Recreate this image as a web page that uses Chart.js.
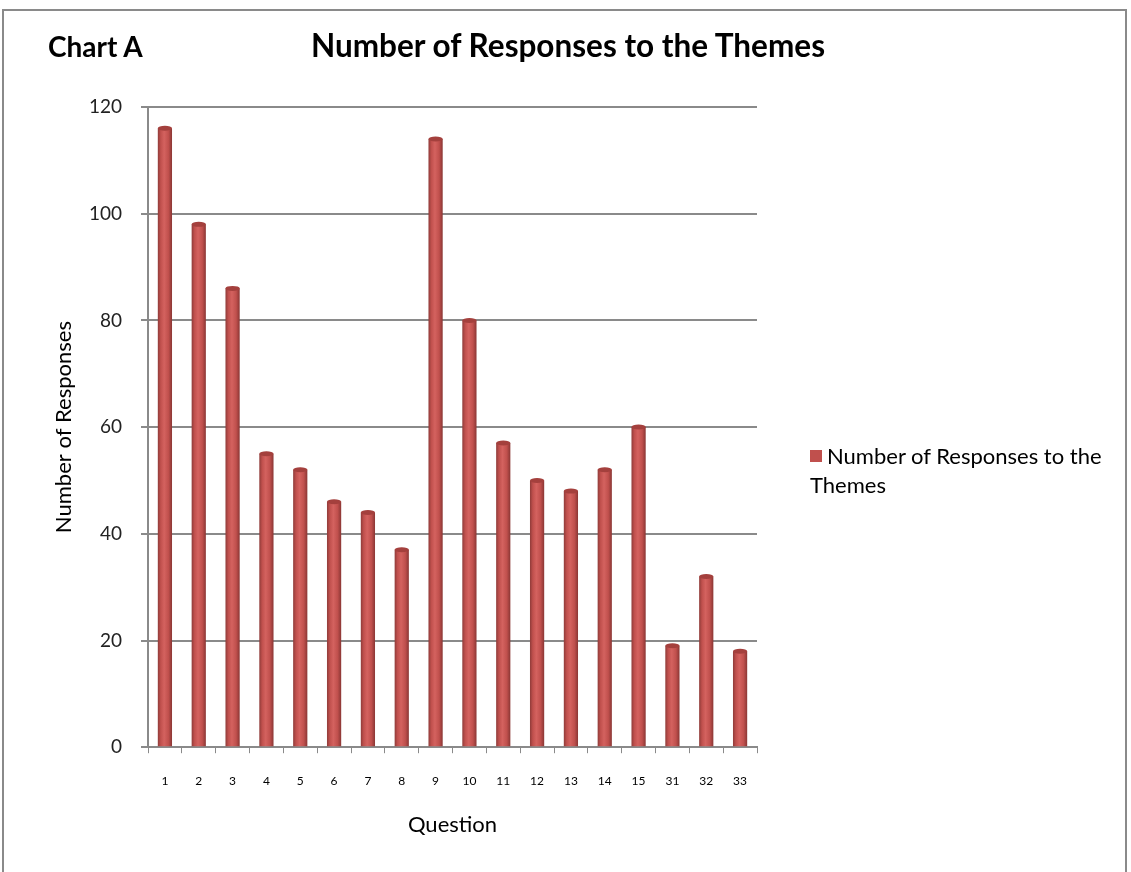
<!DOCTYPE html>
<html>
<head>
<meta charset="utf-8">
<script src="https://cdn.jsdelivr.net/npm/chart.js@4.4.1/dist/chart.umd.min.js"></script>
<style>
  html, body { margin: 0; padding: 0; background: #fff; }
  body { width: 1131px; height: 872px; position: relative; overflow: hidden; font-family: Lato, "Open Sans", sans-serif; }
  #frame { position: absolute; left: 2px; top: 9px; width: 1125px; height: 900px; border: 2px solid #8a8a8a; box-sizing: border-box; }
  #wrap { position: absolute; left: 0; top: 0; width: 1131px; height: 872px; }
  #chartA { position: absolute; left: 48px; top: 29px; font-size: 28px; font-weight: bold; color: #000; }
  #title { position: absolute; left: 311px; top: 26px; font-size: 31.5px; font-weight: bold; color: #000; white-space: nowrap; }
  #legend { position: absolute; left: 810px; top: 441px; width: 300px; font-size: 22px; color: #000; line-height: 29px; }
  #legend .sw { display: inline-block; width: 12px; height: 12px; background: #c0504d; margin-right: 5px; vertical-align: 2px; }
</style>
</head>
<body>
<div id="frame"></div>
<div id="wrap"><canvas id="chart" width="1131" height="872"></canvas></div>
<div id="chartA">Chart A</div>
<div id="title"></div>
<div id="legend"></div>
<script>
const questions = ["1", "2", "3", "4", "5", "6", "7", "8", "9", "10", "11", "12", "13", "14", "15", "31", "32", "33"];
const responses = [116, 98, 86, 55, 52, 46, 44, 37, 114, 80, 57, 50, 48, 52, 60, 19, 32, 18];
const yTicks = [0, 20, 40, 60, 80, 100, 120];
const seriesName = "Number of Responses to the Themes";

const barShare = 0.42;

function barFill(ctx) {
  const chart = ctx.chart;
  const x = chart.scales.x;
  if (!chart.chartArea || !x) return "#c0504d";
  const step = x.width / questions.length;
  const cx = x.getPixelForValue(ctx.dataIndex);
  const w = step * barShare;
  const g = chart.ctx.createLinearGradient(cx - w / 2, 0, cx + w / 2, 0);
  g.addColorStop(0, "#8f3b39");
  g.addColorStop(0.2, "#c0504d");
  g.addColorStop(0.45, "#d4625f");
  g.addColorStop(0.75, "#c0504d");
  g.addColorStop(1, "#8a3634");
  return g;
}

// little elliptical cap on top of each column, like the 3D cylinders
const caps = {
  id: "caps",
  afterDatasetsDraw(chart) {
    const c = chart.ctx;
    chart.getDatasetMeta(0).data.forEach(bar => {
      c.save();
      c.beginPath();
      c.ellipse(bar.x, bar.y, bar.width / 2, 2.5, 0, 0, Math.PI * 2);
      c.fillStyle = "#a4403d";
      c.fill();
      c.restore();
    });
  }
};

document.getElementById("title").textContent = seriesName;
document.getElementById("legend").innerHTML = `<span class="sw"></span>${seriesName}`;

new Chart(document.getElementById("chart"), {
  type: "bar",
  data: {
    labels: questions,
    datasets: [{
      label: seriesName,
      data: responses,
      backgroundColor: barFill,
      borderWidth: 0,
      barPercentage: barShare,
      categoryPercentage: 1
    }]
  },
  plugins: [caps],
  options: {
    responsive: false,
    animation: false,
    layout: { padding: { left: 47, right: 374, top: 107, bottom: 30 } },
    plugins: {
      legend: { display: false },
      tooltip: { enabled: false }
    },
    scales: {
      x: {
        grid: { drawOnChartArea: false, drawTicks: true, tickLength: 6, color: "#8a8a8a", lineWidth: 1 },
        border: { color: "#8a8a8a", width: 2 },
        ticks: { color: "#000", font: { family: "Lato", size: 12 }, padding: 21, maxRotation: 0, autoSkip: false },
        title: { display: true, text: "Question", color: "#000", font: { family: "Lato", size: 22 }, padding: { top: 2 } }
      },
      y: {
        min: 0,
        max: 120,
        afterBuildTicks: axis => { axis.ticks = yTicks.map(v => ({ value: v })); },
        afterFit: axis => { axis.width = 101; },
        grid: { color: "#8a8a8a", lineWidth: 2, tickLength: 7 },
        border: { color: "#8a8a8a", width: 2 },
        ticks: { color: "#222", font: { family: "Lato", size: 19 }, padding: 19 },
        title: { display: true, text: "Number of Responses", color: "#000", font: { family: "Lato", size: 22 }, padding: { bottom: 2 } }
      }
    }
  }
});
</script>
</body>
</html>
